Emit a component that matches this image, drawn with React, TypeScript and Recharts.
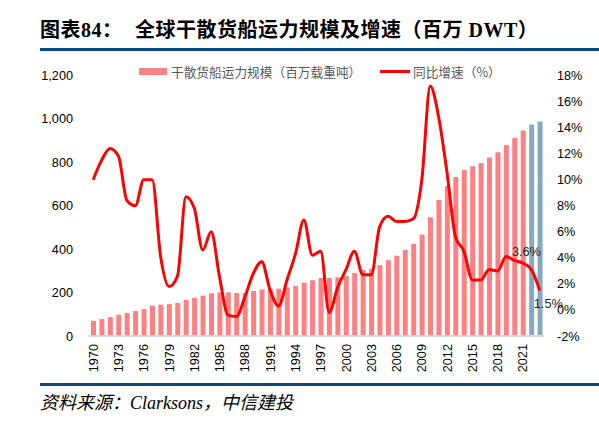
import React from "react";
import {
  ComposedChart,
  Bar,
  Line,
  XAxis,
  YAxis,
  Cell,
  LabelList,
} from "recharts";

// ---- Data ----
const years = [
  1970, 1971, 1972, 1973, 1974, 1975, 1976, 1977, 1978, 1979,
  1980, 1981, 1982, 1983, 1984, 1985, 1986, 1987, 1988, 1989,
  1990, 1991, 1992, 1993, 1994, 1995, 1996, 1997, 1998, 1999,
  2000, 2001, 2002, 2003, 2004, 2005, 2006, 2007, 2008, 2009,
  2010, 2011, 2012, 2013, 2014, 2015, 2016, 2017, 2018, 2019,
  2020, 2021, 2022, 2023,
];

// 干散货船运力规模（百万载重吨）
const fleetDwt = [
  70, 78, 87, 98, 106, 115, 124, 140, 144, 147,
  152, 166, 176, 186, 197, 201, 201, 198, 198, 207,
  215, 217, 218, 223, 230, 246, 257, 267, 267, 270,
  276, 290, 304, 310, 326, 349, 370, 396, 424, 467,
  547, 627, 691, 733, 765, 782, 797, 822, 846, 880,
  912, 947, 974, 988,
];

// 同比增速（%）
const growthPct = [
  10.0, 11.5, 12.4, 11.8, 8.4, 8.0, 10.0, 10.0, 4.1, 1.8,
  2.6, 8.7, 7.8, 4.6, 6.0, 2.5, -0.4, -0.5, 1.0, 2.8,
  3.7, 1.5, 0.3, 2.3, 4.3, 6.9, 4.2, 4.5, -0.2, 1.7,
  3.1, 4.5, 2.7, 2.7, 6.4, 7.2, 6.8, 6.8, 7.0, 10.0,
  17.2, 14.8, 10.5, 5.6, 4.5, 2.3, 2.3, 3.1, 3.0, 4.1,
  3.8, 3.6, 3.1, 1.5,
];

const forecastYears = [2022, 2023];
const labeledYears = [2021, 2023];

const leftTicks = [0, 200, 400, 600, 800, 1000, 1200];
const rightTicks = [-2, 0, 2, 4, 6, 8, 10, 12, 14, 16, 18];

const legendBarName = "干散货船运力规模（百万载重吨）";
const legendLineName = "同比增速（%）";
const titlePrefix = "图表84：";
const titleText = "全球干散货船运力规模及增速（百万 DWT）";
const sourceText = "资料来源：Clarksons，中信建投";

const data = years.map((y, i) => ({
  year: y,
  fleet: fleetDwt[i],
  growth: growthPct[i],
}));

// ---- Styles ----
const BAR_RED = "#ff8080";
const BAR_BLUE = "#86a8c0";
const LINE_RED = "#ff0000";
const RULE_BLUE = "#0b4a7f";
const TICK_FONT = "'Liberation Sans', Arial, sans-serif";

const XTick = (props: any) => {
  const { x, y, payload } = props;
  return (
    <text
      x={x}
      y={y}
      transform={`rotate(-90, ${x}, ${y})`}
      textAnchor="end"
      dy="0.36em"
      fontSize={12.7}
      fontFamily={TICK_FONT}
      fill="#000"
    >
      {payload.value}
    </text>
  );
};

const GrowthLabel = (props: any) => {
  const { x, y, value, index } = props;
  const yr = years[index];
  if (!labeledYears.includes(yr)) return null;
  const isLast = index === years.length - 1;
  const dx = isLast ? 8.5 : 3.5;
  const dy = isLast ? 13.5 : -11;
  return (
    <text
      x={x + dx}
      y={y + dy}
      textAnchor="middle"
      dominantBaseline="central"
      fontSize={12.7}
      fontFamily={TICK_FONT}
      fill="#262626"
    >
      {`${Number(value).toFixed(1)}%`}
    </text>
  );
};

export default function App() {
  const titleStyle: React.CSSProperties = {
    position: "absolute",
    top: 20,
    lineHeight: "20px",
    fontSize: 20,
    fontWeight: 700,
    fontFamily: "'Liberation Serif', 'Noto Sans CJK SC', serif",
    color: "#000",
    whiteSpace: "nowrap",
    letterSpacing: 0.5,
  };
  const legendTextStyle: React.CSSProperties = {
    position: "absolute",
    top: 63,
    lineHeight: "17px",
    fontSize: 12.7,
    fontFamily: "'Noto Sans CJK SC', sans-serif",
    color: "#595959",
    whiteSpace: "nowrap",
  };
  return (
    <div
      style={{
        position: "absolute",
        left: 0,
        top: 0,
        width: 599,
        height: 448,
        background: "#fff",
        overflow: "hidden",
      }}
    >
      {/* Title */}
      <div style={{ ...titleStyle, left: 40 }}>{titlePrefix}</div>
      <div style={{ ...titleStyle, left: 135 }}>{titleText}</div>
      <div
        style={{
          position: "absolute",
          left: 40,
          top: 48,
          width: 559,
          height: 3,
          background: RULE_BLUE,
        }}
      />

      {/* Chart */}
      <div style={{ position: "absolute", left: 0, top: 0 }}>
        <ComposedChart
          width={599}
          height={380}
          data={data}
          margin={{ top: 75.5, right: 10, left: 0, bottom: 0 }}
        >
          <XAxis
            dataKey="year"
            interval={2}
            height={44}
            axisLine={{ stroke: "#d9d9d9", strokeWidth: 2 }}
            tickLine={false}
            tickSize={6}
            tickMargin={2}
            tick={<XTick />}
          />
          <YAxis
            yAxisId="left"
            orientation="left"
            width={89}
            domain={[0, 1200]}
            ticks={leftTicks}
            interval={0}
            axisLine={false}
            tickLine={false}
            tickSize={6}
            tickMargin={10}
            tickFormatter={(v: number) => v.toLocaleString("en-US")}
            tick={{ fontSize: 12.7, fontFamily: TICK_FONT, fill: "#000" }}
          />
          <YAxis
            yAxisId="right"
            orientation="right"
            width={45}
            domain={[-2, 18]}
            ticks={rightTicks}
            interval={0}
            axisLine={false}
            tickLine={false}
            tickSize={6}
            tickMargin={7}
            tickFormatter={(v: number) => `${v}%`}
            tick={{ fontSize: 12.7, fontFamily: TICK_FONT, fill: "#000" }}
          />
          <Bar
            yAxisId="left"
            dataKey="fleet"
            name={legendBarName}
            barSize={5}
            isAnimationActive={false}
          >
            {data.map((d) => (
              <Cell
                key={d.year}
                fill={forecastYears.includes(d.year) ? BAR_BLUE : BAR_RED}
              />
            ))}
          </Bar>
          <Line
            yAxisId="right"
            dataKey="growth"
            name={legendLineName}
            type="monotone"
            stroke={LINE_RED}
            strokeWidth={3}
            dot={false}
            activeDot={false}
            isAnimationActive={false}
          >
            <LabelList dataKey="growth" content={<GrowthLabel />} />
          </Line>
        </ComposedChart>
      </div>

      {/* Legend */}
      <div
        style={{
          position: "absolute",
          left: 139,
          top: 68,
          width: 28,
          height: 7,
          background: BAR_RED,
        }}
      />
      <div style={{ ...legendTextStyle, left: 171 }}>{legendBarName}</div>
      <div
        style={{
          position: "absolute",
          left: 380,
          top: 69.5,
          width: 30,
          height: 3,
          background: LINE_RED,
        }}
      />
      <div style={{ ...legendTextStyle, left: 413 }}>{legendLineName}</div>

      {/* Bottom rule & source */}
      <div
        style={{
          position: "absolute",
          left: 40,
          top: 382.5,
          width: 559,
          height: 3,
          background: RULE_BLUE,
        }}
      />
      <div
        style={{
          position: "absolute",
          left: 40,
          top: 393,
          lineHeight: "20px",
          fontSize: 18,
          fontStyle: "italic",
          fontFamily: "'Liberation Serif', 'Noto Sans CJK SC', serif",
          color: "#000",
          whiteSpace: "nowrap",
        }}
      >
        {sourceText}
      </div>
    </div>
  );
}
